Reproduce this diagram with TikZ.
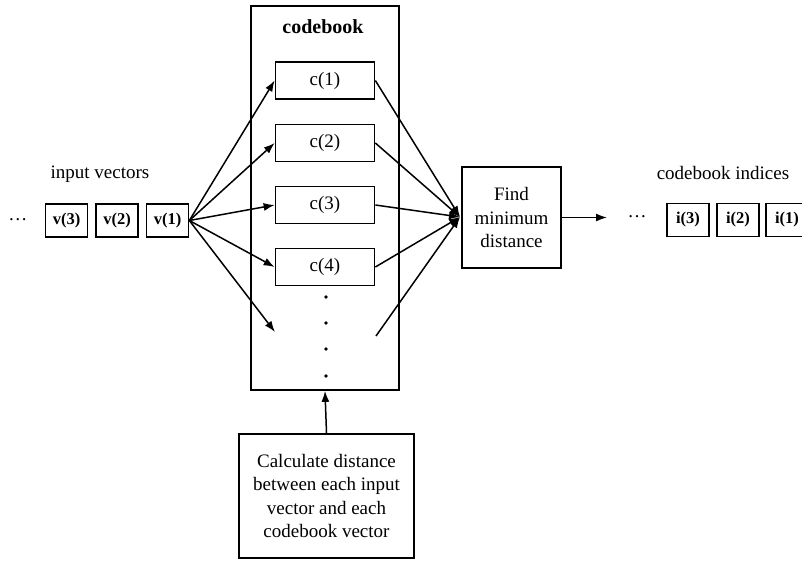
\documentclass[tikz,border=0pt]{standalone}
\usepackage{fontspec}
\setmainfont{Liberation Serif}
\usetikzlibrary{arrows.meta}
\begin{document}
\begin{tikzpicture}[x=1pt,y=-1pt,
  every node/.style={font=\fontsize{19}{23.5}\selectfont},
  box/.style={draw, line width=1.7pt, inner sep=0pt, align=center},
  cell/.style={box, minimum width=99pt, minimum height=37pt},
  vec/.style={box, minimum width=42pt, minimum height=33pt, font=\fontsize{16.5}{20}\selectfont\bfseries},
  link/.style={line width=1.5pt},
  arr/.style={link, -{Latex[length=11pt,width=8pt]}},
  dot/.style={circle, fill=black, inner sep=0pt, minimum size=3.8pt}]
\useasboundingbox (0,0) rectangle (802,560);
\clip (0,0) rectangle (802,560);

% codebook container and its entries
\node[box, minimum width=148pt, minimum height=384pt] (cb) at (325,198) {};
\node[font=\fontsize{20}{24}\selectfont\bfseries] (cbt) at (323,27) {codebook};
\node[cell] (c1) at (325,80.5) {c(1)};
\node[cell] (c2) at (325,143) {c(2)};
\node[cell] (c3) at (325,205) {c(3)};
\node[cell] (c4) at (325,267) {c(4)};
\node[dot] (d1) at (326,297) {};
\node[dot] (d2) at (326,323) {};
\node[dot] (d3) at (326,349) {};
\node[dot] (d4) at (326,376) {};

% input vectors
\node (inl) at (100,174) {input vectors};
\node (indots) at (18,220) {\dots};
\node[vec] (v3) at (66.5,220.5) {v(3)};
\node[vec] (v2) at (117,220.5) {v(2)};
\node[vec] (v1) at (167.5,220.5) {v(1)};

% minimum search
\node[box, minimum width=99pt, minimum height=101pt] (fm) at (511.5,217.5) {Find\\minimum\\distance};
\coordinate (conv) at (460,217);

% output indices
\node (outl) at (723,173) {codebook indices};
\node (outdots) at (637,217) {\dots};
\node[vec] (i3) at (688,220) {i(3)};
\node[vec] (i2) at (738,220) {i(2)};
\node[vec] (i1) at (787,220) {i(1)};
\coordinate (outend) at (607,217.5);

% distance calculation
\node[box, minimum width=175pt, minimum height=124pt] (calc) at (326.5,496)
  {Calculate distance\\between each input\\vector and each\\codebook vector};

% fan-out from the current input vector
\coordinate (more) at (275,332);
\foreach \c in {c1,c2,c3,c4} \draw[arr] (v1.east) -- (\c.west);
\draw[arr] (v1.east) -- (more);

% fan-in to the minimum search
\coordinate (morer) at (376,336);
\foreach \c in {c1,c2,c3,c4} \draw[arr] (\c.east) -- (conv);
\draw[arr] (morer) -- (conv);

\draw[arr] (fm.east) -- (outend);
\draw[arr] (calc.north) -- (cb.south);
\end{tikzpicture}
\end{document}
